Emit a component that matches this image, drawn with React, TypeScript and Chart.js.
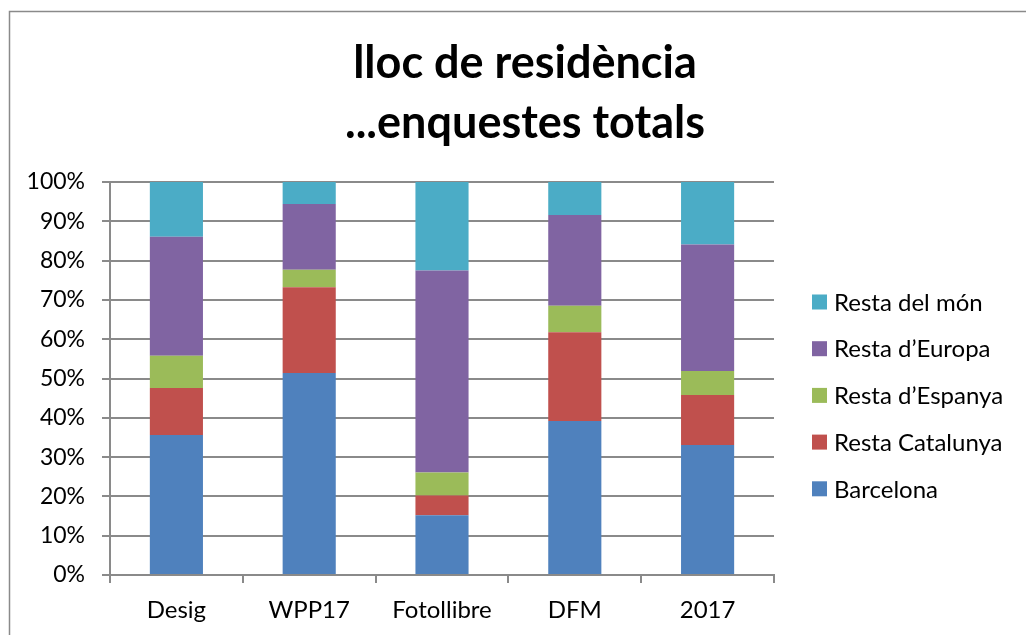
import React, { useEffect, useRef } from "react";
import { Chart, registerables } from "chart.js";

Chart.register(...registerables);

const categories = ["Desig", "WPP17", "Fotollibre", "DFM", "2017"];
const barcelona = [35.6, 51.4, 15.2, 39.2, 33.1];
const restaCatalunya = [12.0, 21.8, 5.0, 22.6, 12.7];
const restaEspanya = [8.2, 4.5, 5.9, 6.7, 6.1];
const restaEuropa = [30.3, 16.7, 51.4, 23.1, 32.2];
const restaMon = [13.9, 5.6, 22.5, 8.4, 15.9];

const seriesNames = ["Barcelona", "Resta Catalunya", "Resta d\u2019Espanya", "Resta d\u2019Europa", "Resta del m\u00f3n"];
const seriesColors = ["#4F81BD", "#C0504D", "#9BBB59", "#8064A2", "#4BACC6"];
const titleLines = ["lloc de resid\u00e8ncia", "...enquestes totals"];

const FONT = "Lato, 'Open Sans', sans-serif";

const frameAndLegend = {
  id: "frameAndLegend",
  beforeDraw(chart: any) {
    const ctx = chart.ctx;
    ctx.save();
    ctx.fillStyle = "#ffffff";
    ctx.fillRect(0, 0, chart.width, chart.height);
    ctx.strokeStyle = "#8a8a8a";
    ctx.lineWidth = 1.5;
    ctx.strokeRect(9.5, 11.5, 2000, 2000);
    ctx.restore();
  },
  afterDraw(chart: any) {
    const ctx = chart.ctx;
    const ds = chart.data.datasets;
    ctx.save();
    ctx.font = `24px ${FONT}`;
    ctx.textBaseline = "middle";
    ctx.textAlign = "left";
    const x0 = 812;
    const y0 = 302;
    const step = 46.7;
    for (let i = 0; i < ds.length; i++) {
      const d = ds[ds.length - 1 - i];
      const cy = y0 + i * step;
      ctx.fillStyle = d.backgroundColor;
      ctx.fillRect(x0, cy - 7.5, 15, 15);
      ctx.fillStyle = "#000000";
      ctx.fillText(d.label, x0 + 22, cy + 1);
    }
    ctx.restore();
  },
};

export default function App() {
  const ref = useRef<HTMLCanvasElement | null>(null);
  useEffect(() => {
    const series = [barcelona, restaCatalunya, restaEspanya, restaEuropa, restaMon];
    const chart = new Chart(ref.current as HTMLCanvasElement, {
      type: "bar",
      data: {
        labels: categories,
        datasets: series.map((s, i) => ({
          label: seriesNames[i],
          data: s,
          backgroundColor: seriesColors[i],
          borderWidth: 0,
          barPercentage: 0.4,
          categoryPercentage: 1,
        })),
      },
      options: {
        animation: false,
        responsive: false,
        maintainAspectRatio: false,
        layout: { padding: { left: 24, right: 0, top: 0, bottom: 0 } },
        plugins: {
          legend: { display: false },
          tooltip: { enabled: false },
          title: {
            display: true,
            text: titleLines,
            color: "#000000",
            font: { family: FONT, size: 45, weight: "bold", lineHeight: 60 / 45 },
            padding: { top: 33, bottom: 29 },
          },
        },
        scales: {
          x: {
            stacked: true,
            offset: true,
            grid: {
              offset: true,
              drawOnChartArea: false,
              drawTicks: true,
              tickLength: 8,
              color: "#8a8a8a",
              lineWidth: 2,
            },
            border: { display: true, color: "#8a8a8a", width: 2 },
            ticks: { color: "#000000", font: { family: FONT, size: 24 }, padding: 13 },
            afterFit: (s: any) => {
              s.height = 60;
            },
          },
          y: {
            stacked: true,
            min: 0,
            max: 100,
            ticks: {
              stepSize: 10,
              color: "#000000",
              font: { family: FONT, size: 23 },
              padding: 17,
              callback: (v: any) => `${v}%`,
            },
            grid: { color: "#8a8a8a", lineWidth: 2, tickLength: 8, drawTicks: true },
            border: { display: true, color: "#8a8a8a", width: 2 },
            afterFit: (s: any) => {
              s.width = 86;
            },
          },
          spacer: {
            type: "linear",
            position: "right",
            display: true,
            grid: { display: false, drawTicks: false },
            border: { display: false },
            ticks: { display: false },
            afterFit: (s: any) => {
              s.width = 252;
            },
          },
        },
      },
      plugins: [frameAndLegend],
    } as any);
    return () => chart.destroy();
  }, []);
  return (
    <div style={{ position: "fixed", left: 0, top: 0, width: 1026, height: 635, background: "#fff" }}>
      <canvas ref={ref} width={1026} height={635} style={{ display: "block", width: 1026, height: 635 }} />
    </div>
  );
}
